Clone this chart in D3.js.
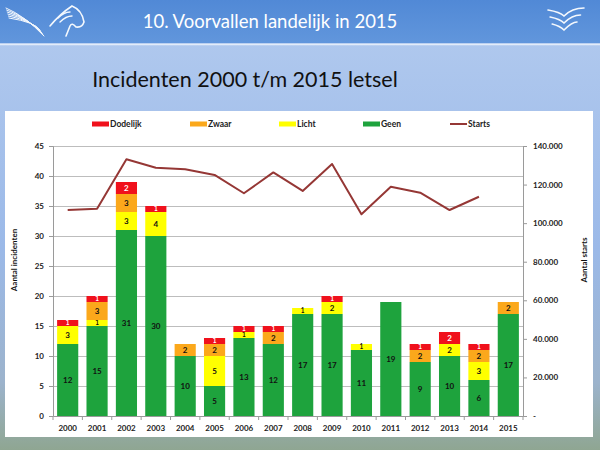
<!DOCTYPE html>
<html>
<head>
<meta charset="utf-8">
<script src="https://cdn.jsdelivr.net/npm/d3@7"></script>
<style>
  body { margin: 0; padding: 0; }
  svg { display: block; }
  text { font-family: Lato, "Open Sans", "DejaVu Sans", sans-serif; }
</style>
</head>
<body>
<div id="chart"></div>
<script>
// data
var years = ["2000", "2001", "2002", "2003", "2004", "2005", "2006", "2007",
    "2008", "2009", "2010", "2011", "2012", "2013", "2014", "2015"];
var geen     = [12, 15, 31, 30, 10, 5, 13, 12, 17, 17, 11, 19, 9, 10, 6, 17];
var licht    = [3, 1, 3, 4, 0, 5, 1, 0, 1, 2, 1, 0, 0, 2, 3, 0];
var zwaar    = [0, 3, 3, 0, 2, 2, 0, 2, 0, 0, 0, 0, 2, 0, 2, 2];
var dodelijk = [1, 1, 2, 1, 0, 1, 1, 1, 0, 1, 0, 0, 1, 2, 1, 0];
var starts   = [106800, 107500, 133100, 128700, 127900, 125000, 115500, 126300,
    116700, 130700, 104600, 118900, 115800, 106800, 113700, null];
var leftTicks = [0, 5, 10, 15, 20, 25, 30, 35, 40, 45];
var rightTicks = [0, 20000, 40000, 60000, 80000, 100000, 120000, 140000];

var seriesNames = ["Geen", "Licht", "Zwaar", "Dodelijk"];
var seriesData = [geen, licht, zwaar, dodelijk];
var legendOrder = ["Dodelijk", "Zwaar", "Licht", "Geen", "Starts"];

var W = 600, H = 450;
var plotL = 53, plotR = 523, plotT = 146, plotB = 416;

var color = d3.scaleOrdinal()
    .domain(["Geen", "Licht", "Zwaar", "Dodelijk", "Starts"])
    .range(["#1ea33d", "#ffff00", "#fba81b", "#f0111c", "#953735"]);

var rows = years.map(function (y, i) {
    var r = { year: y };
    seriesNames.forEach(function (s, k) { r[s] = seriesData[k][i]; });
    return r;
});

var svg = d3.select("#chart").append("svg")
    .attr("width", W)
    .attr("height", H);

var defs = svg.append("defs");
var hg = defs.append("linearGradient").attr("id", "head")
    .attr("x1", 0).attr("y1", 0).attr("x2", 0).attr("y2", 1);
hg.append("stop").attr("offset", "0%").attr("stop-color", "#5189d6");
hg.append("stop").attr("offset", "100%").attr("stop-color", "#6196dc");
var bg = defs.append("linearGradient").attr("id", "back")
    .attr("x1", 0).attr("y1", 0).attr("x2", 0).attr("y2", 1);
bg.append("stop").attr("offset", "0%").attr("stop-color", "#b3cbef");
bg.append("stop").attr("offset", "55%").attr("stop-color", "#9bb9e8");
bg.append("stop").attr("offset", "85%").attr("stop-color", "#9cb3cc");
bg.append("stop").attr("offset", "100%").attr("stop-color", "#8fa692");

// slide background
svg.append("rect").attr("x", 0).attr("y", 0).attr("width", W).attr("height", H)
    .attr("fill", "url(#back)");
svg.append("rect").attr("x", 0).attr("y", 0).attr("width", W).attr("height", 43)
    .attr("fill", "url(#head)");
svg.append("line").attr("x1", 0).attr("x2", W).attr("y1", 44.5).attr("y2", 44.5)
    .attr("stroke", "#e3ecf9").attr("stroke-width", 1.5);

// rough logos
var logo = svg.append("g").attr("fill", "none").attr("stroke", "#f4f8fd")
    .attr("stroke-width", 1).attr("stroke-linecap", "round");
[0, 2, 4, 6, 8, 10].forEach(function (o) {
    logo.append("path").attr("d", "M" + (6 + o * 0.3) + "," + (8 + o) +
        " Q" + (25 + o) + "," + (16 + o * 0.6) + " " + (44 - o * 0.4) + "," + (36 - o * 0.6));
});
logo.append("path").attr("stroke-width", 1.6)
    .attr("d", "M50,26 Q60,14 72,6 Q82,10 84,22 Q82,28 76,27 Q72,22 70,26 L66,36");
logo.append("path").attr("stroke-width", 1.4)
    .attr("d", "M58,18 Q64,12 70,12 M60,22 Q66,16 72,16");
[0, 7, 14].forEach(function (o) {
    logo.append("path").attr("stroke-width", 1.6)
        .attr("d", "M" + (548 + o * 0.3) + "," + (10 + o) + " Q" + (560) + "," + (12 + o) +
            " " + (564) + "," + (16 + o) + " Q" + (572) + "," + (8 + o) + " " + (584 - o * 0.5) + "," + (8 + o));
});

svg.append("text").attr("x", 270).attr("y", 28)
    .attr("text-anchor", "middle").attr("fill", "#ffffff")
    .style("font-size", "18.5px")
    .text("10. Voorvallen landelijk in 2015");
svg.append("text").attr("x", 245).attr("y", 87)
    .attr("text-anchor", "middle").attr("fill", "#111111")
    .style("font-size", "21.5px")
    .text("Incidenten 2000 t/m 2015 letsel");

// chart panel
svg.append("rect").attr("x", 5).attr("y", 111).attr("width", 588).attr("height", 326)
    .attr("fill", "#ffffff");

var x = d3.scaleBand().domain(years).range([plotL, plotR]).paddingInner(0.28).paddingOuter(0.14);
var y = d3.scaleLinear().domain([0, 45]).range([plotB, plotT]);
var y2 = d3.scaleLinear().domain([0, 140000]).range([plotB, plotT]);

// gridlines
svg.append("g")
    .selectAll("line")
    .data(leftTicks.slice(1))
    .enter()
    .append("line")
    .attr("x1", plotL).attr("x2", plotR)
    .attr("y1", function (d) { return Math.round(y(d)) + 0.5; })
    .attr("y2", function (d) { return Math.round(y(d)) + 0.5; })
    .attr("stroke", "#bdbdbd").attr("stroke-width", 1);

// stacked bars
var stack = d3.stack().keys(seriesNames);
var layers = stack(rows);

var barG = svg.append("g").selectAll("g")
    .data(layers)
    .enter()
    .append("g")
    .attr("fill", function (d) { return color(d.key); });

barG.selectAll("rect")
    .data(function (d) { return d; })
    .enter()
    .append("rect")
    .attr("x", function (d) { return x(d.data.year); })
    .attr("width", x.bandwidth())
    .attr("y", function (d) { return y(d[1]); })
    .attr("height", function (d) { return y(d[0]) - y(d[1]); });

barG.selectAll("text")
    .data(function (d) {
        var key = d.key;
        return d.map(function (p) { return { p: p, key: key }; })
            .filter(function (o) { return o.p[1] - o.p[0] > 0; });
    })
    .enter()
    .append("text")
    .attr("x", function (o) { return x(o.p.data.year) + x.bandwidth() / 2; })
    .attr("y", function (o) {
        var small = o.p[1] - o.p[0] === 1;
        return (y(o.p[0]) + y(o.p[1])) / 2 + (small ? 2.3 : 2.8);
    })
    .attr("text-anchor", "middle")
    .attr("fill", function (o) { return o.key === "Dodelijk" ? "#ffffff" : "#111111"; })
    .style("font-size", function (o) { return o.p[1] - o.p[0] === 1 ? "6.5px" : "8px"; })
    .style("font-weight", "bold")
    .text(function (o) { return o.p[1] - o.p[0]; });

// starts line
var line = d3.line()
    .defined(function (d) { return d != null; })
    .x(function (d, i) { return x(years[i]) + x.bandwidth() / 2; })
    .y(function (d) { return y2(d); });

svg.append("path")
    .datum(starts)
    .attr("fill", "none")
    .attr("stroke", color("Starts"))
    .attr("stroke-width", 2)
    .attr("stroke-linejoin", "round")
    .attr("d", line);

// axes
var axisColor = "#9a9a9a";
var yAxis = svg.append("g")
    .attr("transform", "translate(" + plotL + ",0)")
    .call(d3.axisLeft(y).tickValues(leftTicks).tickSize(4).tickPadding(5));
var y2Axis = svg.append("g")
    .attr("transform", "translate(" + plotR + ",0)")
    .call(d3.axisRight(y2).tickValues(rightTicks).tickSize(4).tickPadding(6)
        .tickFormat(function (d) { return d === 0 ? "-" : d3.format(",")(d).replace(/,/g, "."); }));
var xAxis = svg.append("g")
    .attr("transform", "translate(0," + plotB + ")")
    .call(d3.axisBottom(x).tickSize(0).tickPadding(9));

// excel-style ticks between categories
svg.append("g")
    .selectAll("line")
    .data(years.concat(["end"]))
    .enter()
    .append("line")
    .attr("x1", function (d, i) { return plotL + i * x.step(); })
    .attr("x2", function (d, i) { return plotL + i * x.step(); })
    .attr("y1", plotB).attr("y2", plotB + 4)
    .attr("stroke", axisColor);

[yAxis, y2Axis, xAxis].forEach(function (a) {
    a.select(".domain").attr("stroke", axisColor);
    a.selectAll(".tick line").attr("stroke", axisColor);
    a.selectAll("text").attr("fill", "#222222")
        .style("font-size", "8px").style("font-weight", "bold")
        .style("font-family", "Lato, 'Open Sans', sans-serif");
});

// axis titles
svg.append("text")
    .attr("transform", "translate(17,260) rotate(-90)")
    .attr("text-anchor", "middle").attr("fill", "#111111")
    .style("font-size", "8px").style("font-weight", "bold")
    .text("Aantal incidenten");
svg.append("text")
    .attr("transform", "translate(587,260) rotate(-90)")
    .attr("text-anchor", "middle").attr("fill", "#111111")
    .style("font-size", "8px").style("font-weight", "bold")
    .text("Aantal starts");

// legend
var legendX = [92, 190, 279, 363, 450];
var leg = svg.append("g")
    .selectAll("g")
    .data(legendOrder)
    .enter()
    .append("g")
    .attr("transform", function (d, i) { return "translate(" + legendX[i] + ",124)"; });

leg.each(function (d) {
    var g = d3.select(this);
    if (d === "Starts") {
        g.append("line").attr("x1", 0).attr("x2", 17).attr("y1", 0).attr("y2", 0)
            .attr("stroke", color(d)).attr("stroke-width", 2);
    } else {
        g.append("rect").attr("x", 0).attr("y", -2.5).attr("width", 17).attr("height", 5)
            .attr("fill", color(d));
    }
});
leg.append("text")
    .attr("x", 18).attr("y", 3)
    .attr("fill", "#222222")
    .style("font-size", "8.5px").style("font-weight", "bold")
    .text(function (d) { return d; });
</script>
</body>
</html>
